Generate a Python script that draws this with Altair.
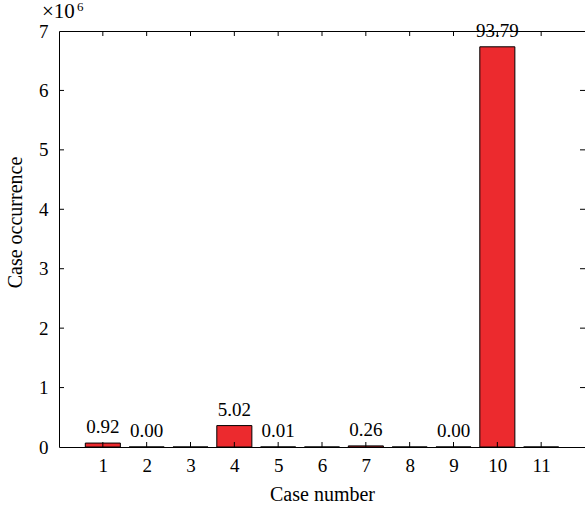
import altair as alt
import pandas as pd

cases = [1, 2, 3, 4, 5, 6, 7, 8, 9, 10, 11]
occurrence = [66000, 100, 0, 360400, 718, 0, 18700, 0, 200, 6734000, 0]
pct_labels = ["0.92", "0.00", "", "5.02", "0.01", "", "0.26", "", "0.00", "93.79", ""]
x_ticks = [1, 2, 3, 4, 5, 6, 7, 8, 9, 10, 11]
y_ticks = [0, 1e6, 2e6, 3e6, 4e6, 5e6, 6e6, 7e6]
y_inner_ticks = [1e6, 2e6, 3e6, 4e6, 5e6, 6e6]

FONT = "Liberation Serif"
W, H = 526, 416
RED = "#EC2A2E"

df = pd.DataFrame({"case": cases, "occ": occurrence, "lab": pct_labels})
df["x0"] = df["case"] - 0.4
df["x1"] = df["case"] + 0.4

xs = alt.Scale(domain=[0, 12], nice=False, zero=False)
ys = alt.Scale(domain=[0, 7e6], nice=False)

xaxis = alt.Axis(values=x_ticks, title="Case number", ticks=False, tickSize=0,
                 domain=False, grid=False, labelPadding=9, titlePadding=9,
                 format="d", labelFontSize=19, titleFontSize=20)
yaxis = alt.Axis(values=y_ticks, title="Case occurrence", ticks=False, tickSize=0,
                 domain=False, grid=False, labelPadding=11,
                 labelExpr="format(datum.value/1e6, 'd')",
                 titleX=-44, titleY=191, titleBaseline="middle", titleAlign="center",
                 labelFontSize=19, titleFontSize=20)

bars = alt.Chart(df).mark_bar(color=RED, stroke="black", strokeWidth=1).encode(
    x=alt.X("x0:Q", scale=xs, axis=xaxis),
    x2="x1:Q",
    y=alt.Y("occ:Q", scale=ys, axis=yaxis),
    y2=alt.datum(0),
)

labels = alt.Chart(df).mark_text(baseline="bottom", dy=-6, font=FONT, fontSize=19, color="black").encode(
    x=alt.X("case:Q", scale=xs, axis=xaxis),
    y=alt.Y("occ:Q", scale=ys, axis=yaxis),
    text="lab:N",
)

xt = pd.DataFrame({"t": x_ticks})
yt = pd.DataFrame({"t": y_inner_ticks})

bottom_ticks = alt.Chart(xt).mark_rule(color="black", strokeWidth=1).encode(
    x=alt.X("t:Q", scale=xs, axis=xaxis), y=alt.value(H), y2=alt.value(H - 5))
top_ticks = alt.Chart(xt).mark_rule(color="black", strokeWidth=1).encode(
    x=alt.X("t:Q", scale=xs, axis=xaxis), y=alt.value(0), y2=alt.value(5))
left_ticks = alt.Chart(yt).mark_rule(color="black", strokeWidth=1).encode(
    y=alt.Y("t:Q", scale=ys, axis=yaxis), x=alt.value(0), x2=alt.value(5))
right_ticks = alt.Chart(yt).mark_rule(color="black", strokeWidth=1).encode(
    y=alt.Y("t:Q", scale=ys, axis=yaxis), x=alt.value(W), x2=alt.value(W - 5))

mult = alt.Chart(pd.DataFrame({"t": ["×10"]})).mark_text(
    font=FONT, fontSize=21, align="left", baseline="alphabetic", color="black").encode(
    x=alt.value(-17), y=alt.value(-13), text="t:N")
expo = alt.Chart(pd.DataFrame({"t": ["6"]})).mark_text(
    font=FONT, fontSize=13, align="left", baseline="alphabetic", color="black").encode(
    x=alt.value(18), y=alt.value(-20), text="t:N")

chart = alt.layer(bars, labels, bottom_ticks, top_ticks, left_ticks, right_ticks, mult, expo).properties(
    width=W, height=H,
    autosize=alt.AutoSizeParams(type="none"),
    padding={"left": 59, "top": 31, "right": 0, "bottom": 62},
    background="white",
).configure_view(stroke="black", strokeWidth=1).configure_axis(
    labelFont=FONT, titleFont=FONT,
    labelColor="black", titleColor="black", titleFontWeight="normal",
)

chart.save("out.html", embed_options={"renderer": "svg", "actions": False})
